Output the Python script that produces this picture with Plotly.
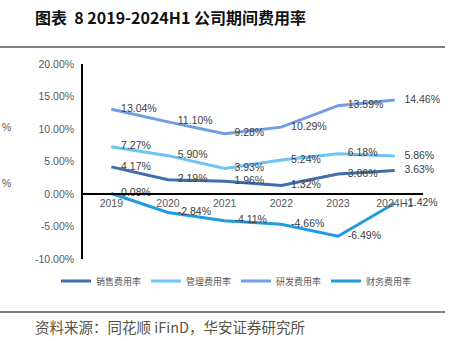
import plotly.graph_objects as go

years = ["2019", "2020", "2021", "2022", "2023", "2024H1"]
sales = [4.17, 2.19, 1.96, 1.32, 3.06, 3.63]
admin = [7.27, 5.90, 3.93, 5.24, 6.18, 5.86]
rnd = [13.04, 11.10, 9.28, 10.29, 13.59, 14.46]
fin = [0.08, -2.84, -4.11, -4.66, -6.49, -1.42]
names = ["销售费用率", "管理费用率", "研发费用率", "财务费用率"]
colors = ["#3F6EAB", "#6EC3F7", "#709DE3", "#1E9BE3"]
yticks = [20, 15, 10, 5, 0, -5, -10]

W, H = 465, 341
L, R, T, B = 83, 423, 64, 259
def px(x):
    return (x - L) / (R - L)
def py(y):
    return (B - y) / (B - T)

fig = go.Figure()
for name, vals, c in zip(names, [sales, admin, rnd, fin], colors):
    fig.add_trace(go.Scatter(
        x=years, y=vals, name=name, mode="lines+markers+text",
        line=dict(color=c, width=3),
        marker=dict(size=14, color="rgba(0,0,0,0)"),
        text=[f"{v:.2f}%" for v in vals], textposition="middle right",
        textfont=dict(family="Liberation Sans", size=10.5, color="#404040"),
        cliponaxis=False,
    ))

fig.update_layout(
    width=W, height=H,
    margin=dict(l=L, r=W - R, t=T, b=H - B),
    paper_bgcolor="white", plot_bgcolor="white",
    font=dict(family="Liberation Sans, Noto Sans CJK SC", color="#595959"),
    showlegend=True,
    legend=dict(orientation="h", x=px(56), xanchor="left", y=py(281), yanchor="middle",
                itemwidth=30,
                font=dict(family="Noto Sans CJK SC", size=9, color="#595959"),
                bgcolor="rgba(0,0,0,0)"),
    xaxis=dict(type="category", range=[-0.5, 5.5], showline=True, linecolor="#000000",
               linewidth=1.5, ticks="", showgrid=False, zeroline=False,
               anchor="free", position=1/3,
               tickfont=dict(family="Liberation Sans", size=10.5, color="#595959")),
    yaxis=dict(range=[-10, 20], tickvals=yticks, ticktext=[f"{v:.2f}%" for v in yticks],
               showline=True, linecolor="#000000", linewidth=1.5, showgrid=False,
               zeroline=False, ticks="", ticklabelstandoff=5,
               tickfont=dict(family="Liberation Sans", size=10.5, color="#595959")),
)

ann = [
    dict(text="<b>图表  8 2019-2024H1 公司期间费用率</b>", x=px(33), y=py(17), xanchor="left",
         yanchor="middle", font=dict(family="Noto Sans CJK SC", size=16, color="#111111")),
    dict(text="资料来源：同花顺 iFinD，华安证券研究所", x=px(33), y=py(326), xanchor="left",
         yanchor="middle", font=dict(family="Noto Sans CJK SC", size=14.5, color="#555544")),
    dict(text="%", x=px(0), y=py(127), xanchor="left", yanchor="middle",
         font=dict(family="Liberation Sans", size=10.5, color="#595959")),
    dict(text="%", x=px(0), y=py(183), xanchor="left", yanchor="middle",
         font=dict(family="Liberation Sans", size=10.5, color="#595959")),
]
for a in ann:
    a.update(xref="paper", yref="paper", showarrow=False)
fig.update_layout(annotations=ann)

for yy in [47, 312]:
    fig.add_shape(type="line", xref="paper", yref="paper", x0=px(0), x1=px(445),
                  y0=py(yy), y1=py(yy), line=dict(color="#555555", width=1.5))

fig.write_html("out.html")
